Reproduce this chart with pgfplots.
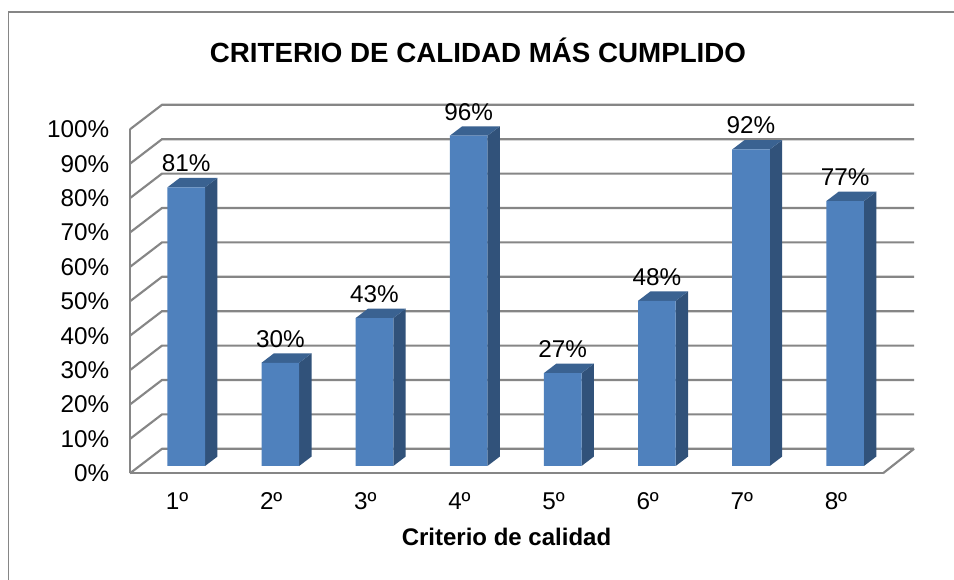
\documentclass[border=0pt]{standalone}
\usepackage{fontspec}
\setmainfont{Liberation Sans}
\usepackage{pgfplots}
\pgfplotsset{compat=1.18}
\definecolor{gridg}{HTML}{868686}
\definecolor{front}{HTML}{4F81BD}
\definecolor{sidec}{HTML}{31527A}
\definecolor{topc}{HTML}{3A6291}
\newcommand{\Barra}[2]{%
  % side face
  \addplot[fill=sidec,draw=none,forget plot] coordinates {({#1+0.2},0) ({#1+0.2+0.131},2.73) ({#1+0.2+0.131},{#2+2.73}) ({#1+0.2},#2)} --cycle;
  % top face
  \addplot[fill=topc,draw=none,forget plot] coordinates {({#1-0.2},#2) ({#1-0.2+0.131},{#2+2.73}) ({#1+0.2+0.131},{#2+2.73}) ({#1+0.2},#2)} --cycle;
}
\begin{document}
\begin{tikzpicture}[x=0.75pt,y=0.75pt]
% page: 954x580 px; origin at the front-left corner of the floor (130,473.3)
\path[use as bounding box] (-130,-106.7) rectangle (824,473.3);
\fill[white] (-130,-106.7) rectangle (824,473.3);
\draw[gridg,line width=1.2pt] (-121.5,-106.7) -- (-121.5,461) -- (824,461);
\node[font=\bfseries\fontsize{20.8}{24}\selectfont,anchor=center] at (348,423) {CRITERIO DE CALIDAD MÁS CUMPLIDO};
\begin{axis}[
  at={(0,0)},anchor=south west,scale only axis,
  width=564.75pt,height=258pt,
  xmin=0.5,xmax=8.5,ymin=0,ymax=100,clip=false,
  axis lines=left,axis line style={-,gridg,line width=1.7pt},
  xtick={1,...,8},xticklabels={1º,2º,3º,4º,5º,6º,7º,8º},
  ytick={0,10,...,100},yticklabels={0\%,10\%,20\%,30\%,40\%,50\%,60\%,70\%,80\%,90\%,100\%},
  major tick length=0pt,
  tick label style={font=\fontsize{18.2}{20}\selectfont},
  /pgf/number format/assume math mode=true,
  yticklabel style={xshift=-12pt},
  xticklabel style={yshift=-11pt},
  xlabel={\bfseries Criterio de calidad},
  xlabel style={font=\fontsize{18}{20}\selectfont,yshift=-7pt},
]
\pgfplotsinvokeforeach{0,10,...,100}{
  \addplot[gridg,line width=1.6pt,forget plot] coordinates {(0.5,#1) (0.84,{#1+7.12}) (8.83,{#1+7.12})};
}
\addplot[gridg,line width=1.6pt,forget plot] coordinates {(8.5,0) (8.83,7.12)};
\end{axis}
\begin{axis}[
  at={(6.9pt,5.5pt)},anchor=south west,scale only axis,
  width=564.75pt,height=258pt,
  xmin=0.5,xmax=8.5,ymin=0,ymax=100,clip=false,
  hide axis,
]
\Barra{1}{81}
\Barra{2}{30}
\Barra{3}{43}
\Barra{4}{96}
\Barra{5}{27}
\Barra{6}{48}
\Barra{7}{92}
\Barra{8}{77}
\addplot[ybar,bar width=28.2pt,fill=front,draw=none,
  nodes near coords={\pgfmathprintnumber{\pgfplotspointmeta}\%},
  /pgf/number format/assume math mode=true,
  every node near coord/.style={anchor=center,yshift=18pt,text=black,font=\fontsize{18.2}{20}\selectfont,/pgf/number format/assume math mode=true},
] coordinates {(1,81) (2,30) (3,43) (4,96) (5,27) (6,48) (7,92) (8,77)};
\end{axis}
\end{tikzpicture}
\end{document}
